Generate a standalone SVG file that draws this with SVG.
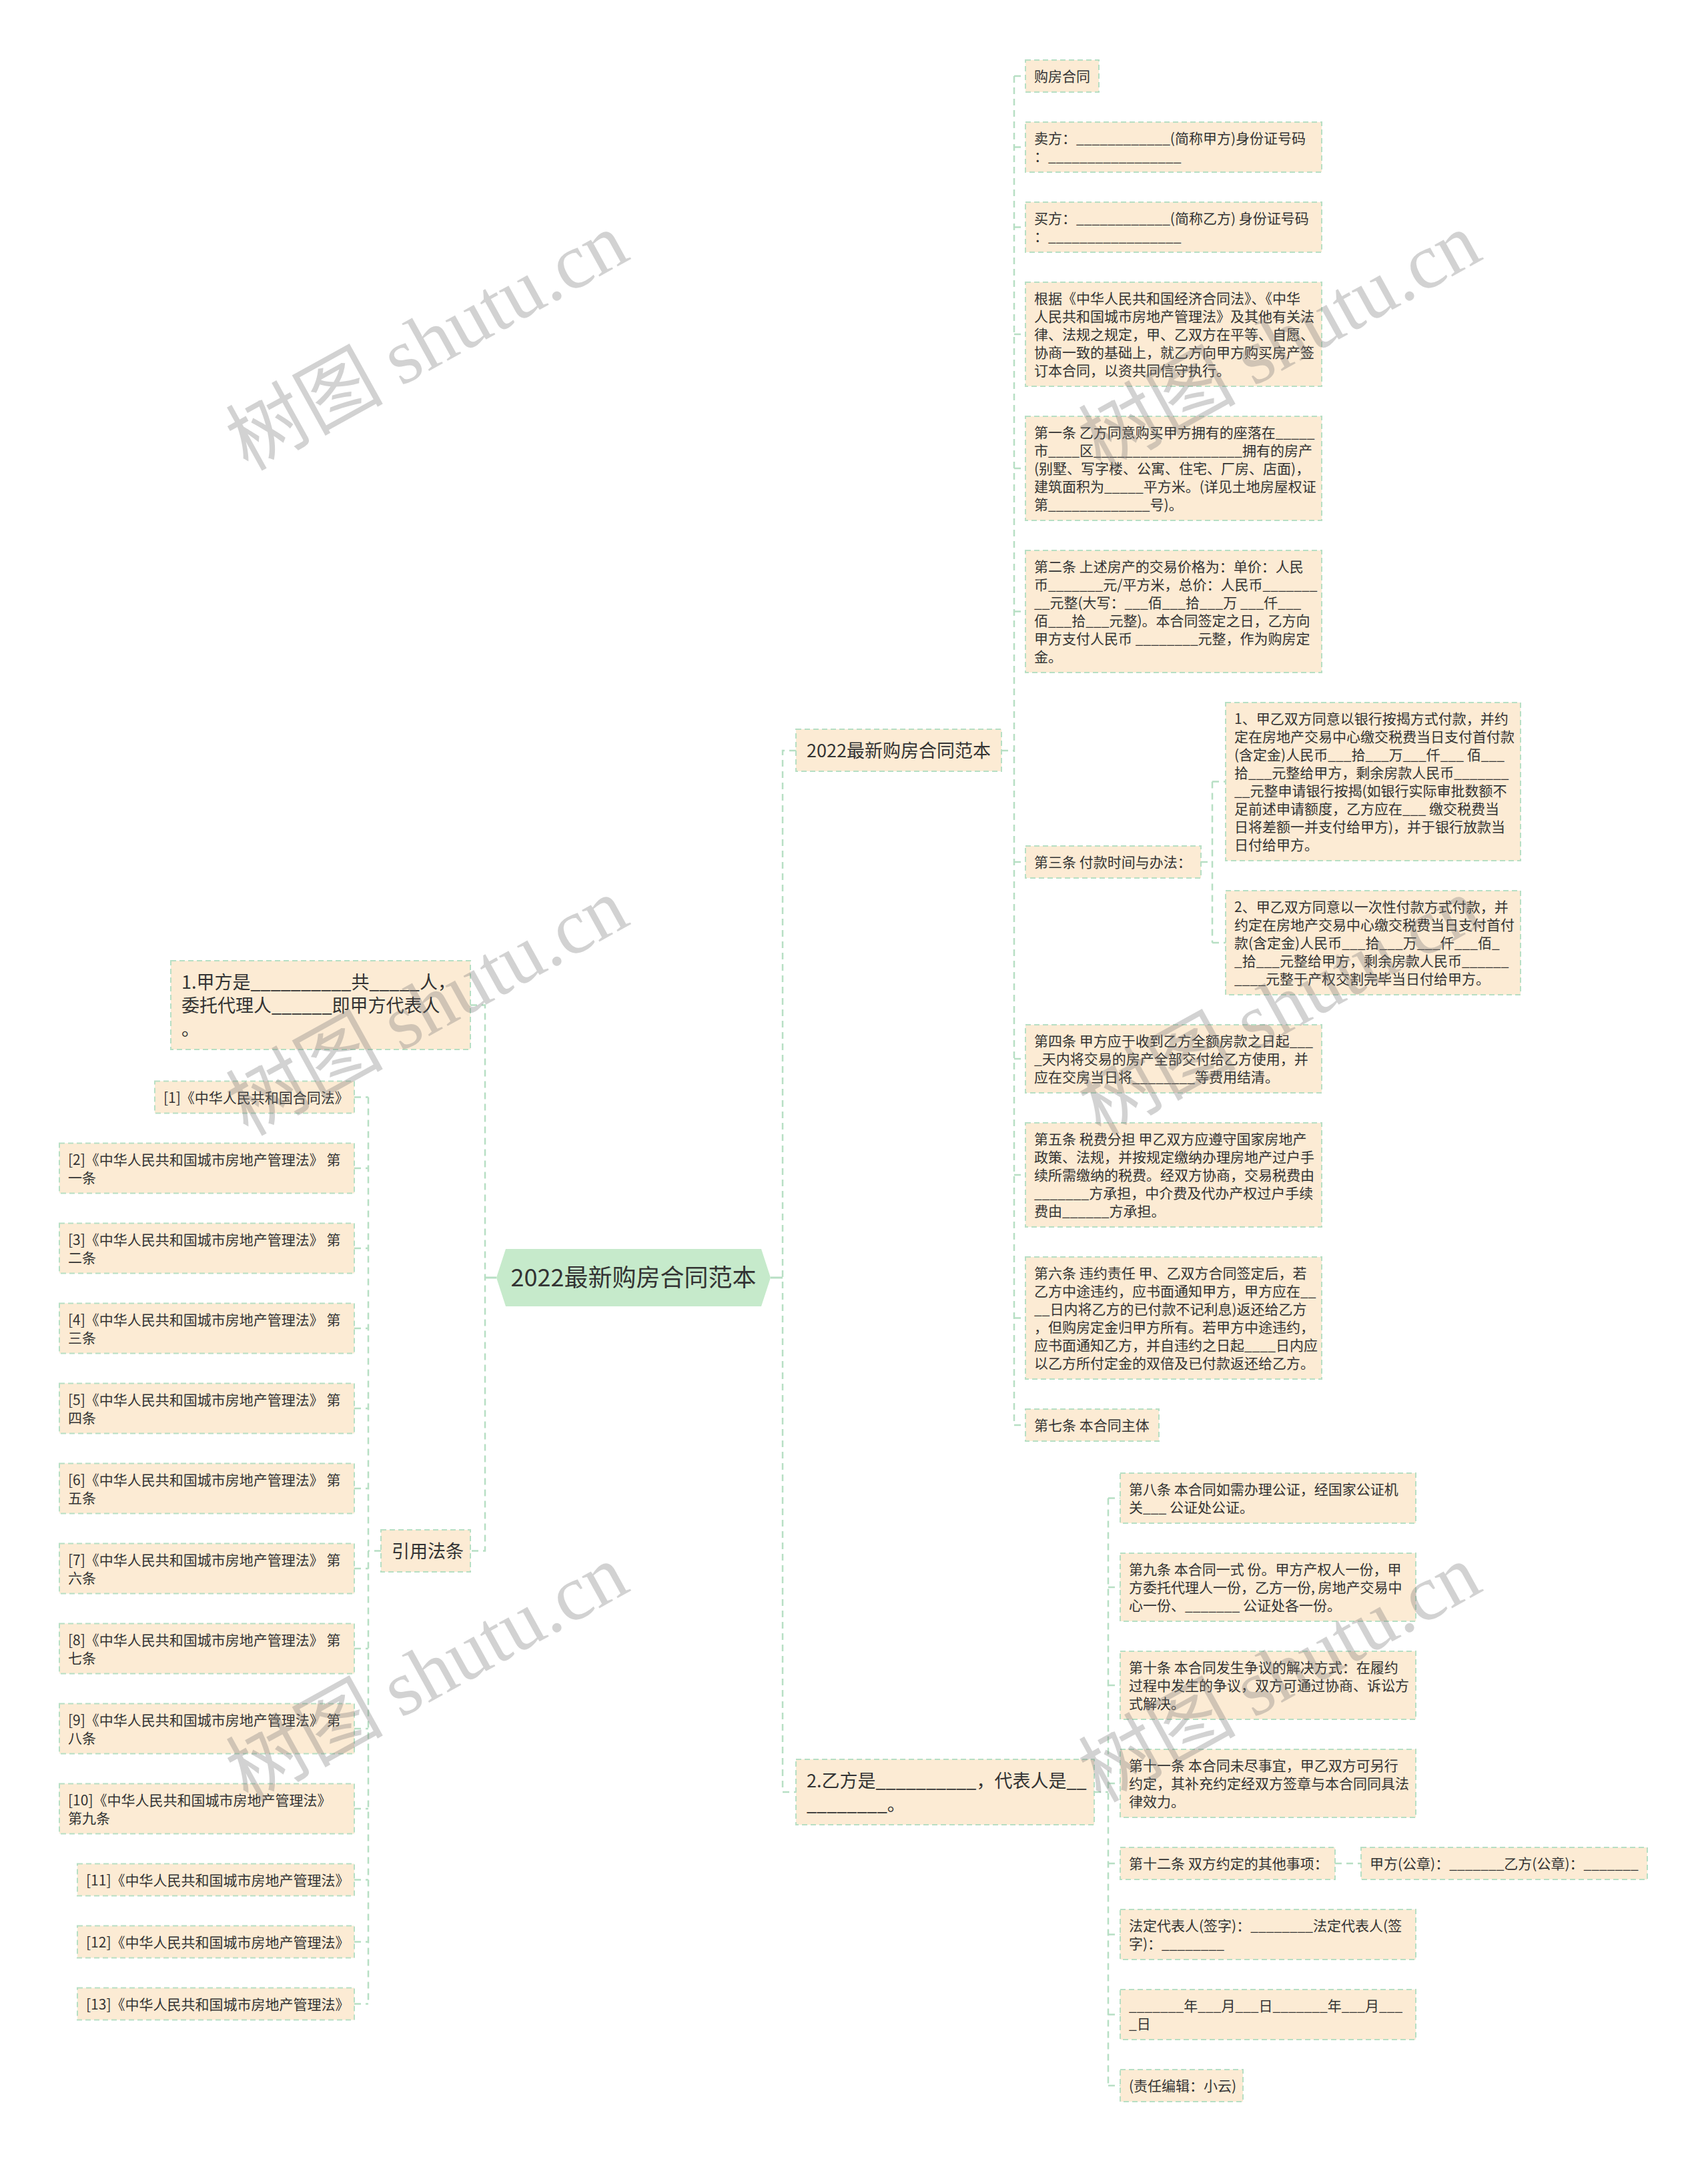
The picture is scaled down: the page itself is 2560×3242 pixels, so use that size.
<svg xmlns="http://www.w3.org/2000/svg" width="2560" height="3242" viewBox="0 0 2560 3242">
<style>
.n{fill:#fcebd4;stroke:#b7dfc4;stroke-width:2;stroke-dasharray:8 5}
.t{font-family:"Noto Sans CJK SC","Microsoft YaHei",sans-serif;font-size:21px;fill:#333}
.t1{font-size:27px}
.c{fill:none;stroke:#b7dfc4;stroke-width:2.5;stroke-dasharray:10 7}
.s{fill:none;stroke:#b7dfc4;stroke-width:3}
.wm{font-family:"Noto Sans CJK SC",sans-serif;font-size:118px;fill:#777;fill-opacity:0.33}
.wm2{font-family:"Liberation Serif",serif}
</style>
<rect width="2560" height="3242" fill="#ffffff"/>
<g id="connectors">
<path class="s" d="M1155,1915 H1173 M744,1915 H727"/>
<path class="c" d="M1193,1125 H1173 V2686 H1193"/>
<path class="c" d="M705,1506.5 H727 V2324.5 H705"/>
<path class="c" d="M1501,1125 H1520 M1520,114 V2136 M1520,114 H1537 M1520,220.5 H1537 M1520,340.5 H1537 M1520,501 H1537 M1520,702 H1537 M1520,916.5 H1537 M1520,1292 H1537 M1520,1587 H1537 M1520,1761 H1537 M1520,1975.5 H1537 M1520,2136 H1537"/>
<path class="c" d="M1800,1292 H1817 M1817,1171.5 V1413 M1817,1171.5 H1837 M1817,1413 H1837"/>
<path class="c" d="M1640,2686 H1661 M1661,2245.5 V3126 M1661,2245.5 H1679 M1661,2379 H1679 M1661,2526 H1679 M1661,2673 H1679 M1661,2793 H1679 M1661,2899.5 H1679 M1661,3019.5 H1679 M1661,3126 H1679 M2001,2793 H2040"/>
<path class="c" d="M571,2324.5 H552 M552,1644.5 V3003.5 M531,1644.5 H552 M531,1751 H552 M531,1871 H552 M531,1991 H552 M531,2111 H552 M531,2231 H552 M531,2351 H552 M531,2471 H552 M531,2591 H552 M531,2711 H552 M531,2817.5 H552 M531,2910.5 H552 M531,3003.5 H552"/>
</g>
<g id="root">
<polygon points="744,1915 758,1872 1141,1872 1155,1915 1141,1958 758,1958" fill="#c6eacb"/>
<text class="t" x="949.5" y="1928" text-anchor="middle" style="font-size:36px">2022最新购房合同范本</text>
</g>
<g id="b1">
<rect class="n" x="1193" y="1093" width="308" height="63"/>
<text class="t t1" x="1209" y="1134.5">2022最新购房合同范本</text>
</g>
<g id="c1"><rect class="n" x="1537" y="90" width="110" height="48"/><text class="t" x="1550" y="122">购房合同</text></g>
<g id="c2"><rect class="n" x="1537" y="183" width="444" height="75"/><text class="t"><tspan x="1550" y="215">卖方：____________(简称甲方)身份证号码</tspan><tspan x="1550" y="242">：_________________</tspan></text></g>
<g id="c3"><rect class="n" x="1537" y="303" width="444" height="75"/><text class="t"><tspan x="1550" y="335">买方：____________(简称乙方) 身份证号码</tspan><tspan x="1550" y="362">：_________________</tspan></text></g>
<g id="c4"><rect class="n" x="1537" y="423" width="444" height="156"/><text class="t"><tspan x="1550" y="455">根据《中华人民共和国经济合同法》、《中华</tspan><tspan x="1550" y="482">人民共和国城市房地产管理法》及其他有关法</tspan><tspan x="1550" y="509">律、法规之规定，甲、乙双方在平等、自愿、</tspan><tspan x="1550" y="536">协商一致的基础上，就乙方向甲方购买房产签</tspan><tspan x="1550" y="563">订本合同，以资共同信守执行。</tspan></text></g>
<g id="c5"><rect class="n" x="1537" y="624" width="444" height="156"/><text class="t"><tspan x="1550" y="656">第一条 乙方同意购买甲方拥有的座落在_____</tspan><tspan x="1550" y="683">市____区___________________拥有的房产</tspan><tspan x="1550" y="710">(别墅、写字楼、公寓、住宅、厂房、店面)，</tspan><tspan x="1550" y="737">建筑面积为_____平方米。(详见土地房屋权证</tspan><tspan x="1550" y="764">第_____________号)。</tspan></text></g>
<g id="c6"><rect class="n" x="1537" y="825" width="444" height="183"/><text class="t"><tspan x="1550" y="857">第二条 上述房产的交易价格为：单价：人民</tspan><tspan x="1550" y="884">币_______元/平方米，总价：人民币_______</tspan><tspan x="1550" y="911">__元整(大写：___佰___拾___万 ___仟___</tspan><tspan x="1550" y="938">佰___拾___元整)。本合同签定之日，乙方向</tspan><tspan x="1550" y="965">甲方支付人民币 ________元整，作为购房定</tspan><tspan x="1550" y="992">金。</tspan></text></g>
<g id="c7"><rect class="n" x="1537" y="1268" width="263" height="48"/><text class="t" x="1550" y="1300">第三条 付款时间与办法：</text></g>
<g id="c7a"><rect class="n" x="1837" y="1053" width="442" height="237"/><text class="t"><tspan x="1850" y="1085">1、甲乙双方同意以银行按揭方式付款，并约</tspan><tspan x="1850" y="1112">定在房地产交易中心缴交税费当日支付首付款</tspan><tspan x="1850" y="1139">(含定金)人民币___拾___万___仟___ 佰___</tspan><tspan x="1850" y="1166">拾___元整给甲方，剩余房款人民币_______</tspan><tspan x="1850" y="1193">__元整申请银行按揭(如银行实际审批数额不</tspan><tspan x="1850" y="1220">足前述申请额度，乙方应在___ 缴交税费当</tspan><tspan x="1850" y="1247">日将差额一并支付给甲方)，并于银行放款当</tspan><tspan x="1850" y="1274">日付给甲方。</tspan></text></g>
<g id="c7b"><rect class="n" x="1837" y="1335" width="442" height="156"/><text class="t"><tspan x="1850" y="1367">2、甲乙双方同意以一次性付款方式付款，并</tspan><tspan x="1850" y="1394">约定在房地产交易中心缴交税费当日支付首付</tspan><tspan x="1850" y="1421">款(含定金)人民币___拾___万___仟___佰_</tspan><tspan x="1850" y="1448">_拾___元整给甲方，剩余房款人民币______</tspan><tspan x="1850" y="1475">____元整于产权交割完毕当日付给甲方。</tspan></text></g>
<g id="c8"><rect class="n" x="1537" y="1536" width="444" height="102"/><text class="t"><tspan x="1550" y="1568">第四条 甲方应于收到乙方全额房款之日起___</tspan><tspan x="1550" y="1595">_天内将交易的房产全部交付给乙方使用，并</tspan><tspan x="1550" y="1622">应在交房当日将________等费用结清。</tspan></text></g>
<g id="c9"><rect class="n" x="1537" y="1683" width="444" height="156"/><text class="t"><tspan x="1550" y="1715">第五条 税费分担 甲乙双方应遵守国家房地产</tspan><tspan x="1550" y="1742">政策、法规，并按规定缴纳办理房地产过户手</tspan><tspan x="1550" y="1769">续所需缴纳的税费。经双方协商，交易税费由</tspan><tspan x="1550" y="1796">_______方承担，中介费及代办产权过户手续</tspan><tspan x="1550" y="1823">费由______方承担。</tspan></text></g>
<g id="c10"><rect class="n" x="1537" y="1884" width="444" height="183"/><text class="t"><tspan x="1550" y="1916">第六条 违约责任 甲、乙双方合同签定后，若</tspan><tspan x="1550" y="1943">乙方中途违约，应书面通知甲方，甲方应在__</tspan><tspan x="1550" y="1970">__日内将乙方的已付款不记利息)返还给乙方</tspan><tspan x="1550" y="1997">，但购房定金归甲方所有。若甲方中途违约，</tspan><tspan x="1550" y="2024">应书面通知乙方，并自违约之日起____日内应</tspan><tspan x="1550" y="2051">以乙方所付定金的双倍及已付款返还给乙方。</tspan></text></g>
<g id="c11"><rect class="n" x="1537" y="2112" width="200" height="48"/><text class="t" x="1550" y="2144">第七条 本合同主体</text></g>
<g id="b2">
<rect class="n" x="1193" y="2637" width="447" height="98"/>
<text class="t t1"><tspan x="1209" y="2678.5">2.乙方是__________，代表人是__</tspan><tspan x="1209" y="2713.5">________。</tspan></text>
</g>
<g id="d1"><rect class="n" x="1679" y="2208" width="443" height="75"/><text class="t"><tspan x="1692" y="2240">第八条 本合同如需办理公证，经国家公证机</tspan><tspan x="1692" y="2267">关___ 公证处公证。</tspan></text></g>
<g id="d2"><rect class="n" x="1679" y="2328" width="443" height="102"/><text class="t"><tspan x="1692" y="2360">第九条 本合同一式 份。甲方产权人一份，甲</tspan><tspan x="1692" y="2387">方委托代理人一份，乙方一份, 房地产交易中</tspan><tspan x="1692" y="2414">心一份、_______ 公证处各一份。</tspan></text></g>
<g id="d3"><rect class="n" x="1679" y="2475" width="443" height="102"/><text class="t"><tspan x="1692" y="2507">第十条 本合同发生争议的解决方式：在履约</tspan><tspan x="1692" y="2534">过程中发生的争议，双方可通过协商、诉讼方</tspan><tspan x="1692" y="2561">式解决。</tspan></text></g>
<g id="d4"><rect class="n" x="1679" y="2622" width="443" height="102"/><text class="t"><tspan x="1692" y="2654">第十一条 本合同未尽事宜，甲乙双方可另行</tspan><tspan x="1692" y="2681">约定，其补充约定经双方签章与本合同同具法</tspan><tspan x="1692" y="2708">律效力。</tspan></text></g>
<g id="d5"><rect class="n" x="1679" y="2769" width="322" height="48"/><text class="t" x="1692" y="2801">第十二条 双方约定的其他事项：</text></g>
<g id="d5a"><rect class="n" x="2040" y="2769" width="429" height="48"/><text class="t" x="2053" y="2801">甲方(公章)：_______乙方(公章)：_______</text></g>
<g id="d6"><rect class="n" x="1679" y="2862" width="443" height="75"/><text class="t"><tspan x="1692" y="2894">法定代表人(签字)：________法定代表人(签</tspan><tspan x="1692" y="2921">字)：________</tspan></text></g>
<g id="d7"><rect class="n" x="1679" y="2982" width="443" height="75"/><text class="t"><tspan x="1692" y="3014">_______年___月___日_______年___月___</tspan><tspan x="1692" y="3041">_日</tspan></text></g>
<g id="d8"><rect class="n" x="1679" y="3102" width="184" height="48"/><text class="t" x="1692" y="3134">(责任编辑：小云)</text></g>
<g id="l1">
<rect class="n" x="256" y="1440" width="449" height="133"/>
<text class="t t1"><tspan x="272" y="1481.5">1.甲方是__________共_____人，</tspan><tspan x="272" y="1516.5">委托代理人______即甲方代表人</tspan><tspan x="272" y="1551.5">。</tspan></text>
</g>
<g id="l2"><rect class="n" x="571" y="2293" width="134" height="63"/><text class="t t1" x="587" y="2334.5">引用法条</text></g>
<g id="r1"><rect class="n" x="232" y="1620.5" width="299" height="48"/><text class="t" x="245" y="1652.5">[1]《中华人民共和国合同法》</text></g>
<g id="r2"><rect class="n" x="89" y="1713.5" width="442" height="75"/><text class="t"><tspan x="102" y="1745.5">[2]《中华人民共和国城市房地产管理法》 第</tspan><tspan x="102" y="1772.5">一条</tspan></text></g>
<g id="r3"><rect class="n" x="89" y="1833.5" width="442" height="75"/><text class="t"><tspan x="102" y="1865.5">[3]《中华人民共和国城市房地产管理法》 第</tspan><tspan x="102" y="1892.5">二条</tspan></text></g>
<g id="r4"><rect class="n" x="89" y="1953.5" width="442" height="75"/><text class="t"><tspan x="102" y="1985.5">[4]《中华人民共和国城市房地产管理法》 第</tspan><tspan x="102" y="2012.5">三条</tspan></text></g>
<g id="r5"><rect class="n" x="89" y="2073.5" width="442" height="75"/><text class="t"><tspan x="102" y="2105.5">[5]《中华人民共和国城市房地产管理法》 第</tspan><tspan x="102" y="2132.5">四条</tspan></text></g>
<g id="r6"><rect class="n" x="89" y="2193.5" width="442" height="75"/><text class="t"><tspan x="102" y="2225.5">[6]《中华人民共和国城市房地产管理法》 第</tspan><tspan x="102" y="2252.5">五条</tspan></text></g>
<g id="r7"><rect class="n" x="89" y="2313.5" width="442" height="75"/><text class="t"><tspan x="102" y="2345.5">[7]《中华人民共和国城市房地产管理法》 第</tspan><tspan x="102" y="2372.5">六条</tspan></text></g>
<g id="r8"><rect class="n" x="89" y="2433.5" width="442" height="75"/><text class="t"><tspan x="102" y="2465.5">[8]《中华人民共和国城市房地产管理法》 第</tspan><tspan x="102" y="2492.5">七条</tspan></text></g>
<g id="r9"><rect class="n" x="89" y="2553.5" width="442" height="75"/><text class="t"><tspan x="102" y="2585.5">[9]《中华人民共和国城市房地产管理法》 第</tspan><tspan x="102" y="2612.5">八条</tspan></text></g>
<g id="r10"><rect class="n" x="89" y="2673.5" width="442" height="75"/><text class="t"><tspan x="102" y="2705.5">[10]《中华人民共和国城市房地产管理法》</tspan><tspan x="102" y="2732.5">第九条</tspan></text></g>
<g id="r11"><rect class="n" x="116" y="2793.5" width="415" height="48"/><text class="t" x="129" y="2825.5">[11]《中华人民共和国城市房地产管理法》</text></g>
<g id="r12"><rect class="n" x="116" y="2886.5" width="415" height="48"/><text class="t" x="129" y="2918.5">[12]《中华人民共和国城市房地产管理法》</text></g>
<g id="r13"><rect class="n" x="116" y="2979.5" width="415" height="48"/><text class="t" x="129" y="3011.5">[13]《中华人民共和国城市房地产管理法》</text></g>
<g id="watermarks">
<text class="wm" transform="translate(640,512) rotate(-29)" text-anchor="middle" y="40">树图 <tspan class="wm2">shutu.cn</tspan></text>
<text class="wm" transform="translate(1918,512) rotate(-29)" text-anchor="middle" y="40">树图 <tspan class="wm2">shutu.cn</tspan></text>
<text class="wm" transform="translate(640,1509) rotate(-29)" text-anchor="middle" y="40">树图 <tspan class="wm2">shutu.cn</tspan></text>
<text class="wm" transform="translate(1918,1509) rotate(-29)" text-anchor="middle" y="40">树图 <tspan class="wm2">shutu.cn</tspan></text>
<text class="wm" transform="translate(640,2508) rotate(-29)" text-anchor="middle" y="40">树图 <tspan class="wm2">shutu.cn</tspan></text>
<text class="wm" transform="translate(1918,2508) rotate(-29)" text-anchor="middle" y="40">树图 <tspan class="wm2">shutu.cn</tspan></text>
</g>
</svg>
